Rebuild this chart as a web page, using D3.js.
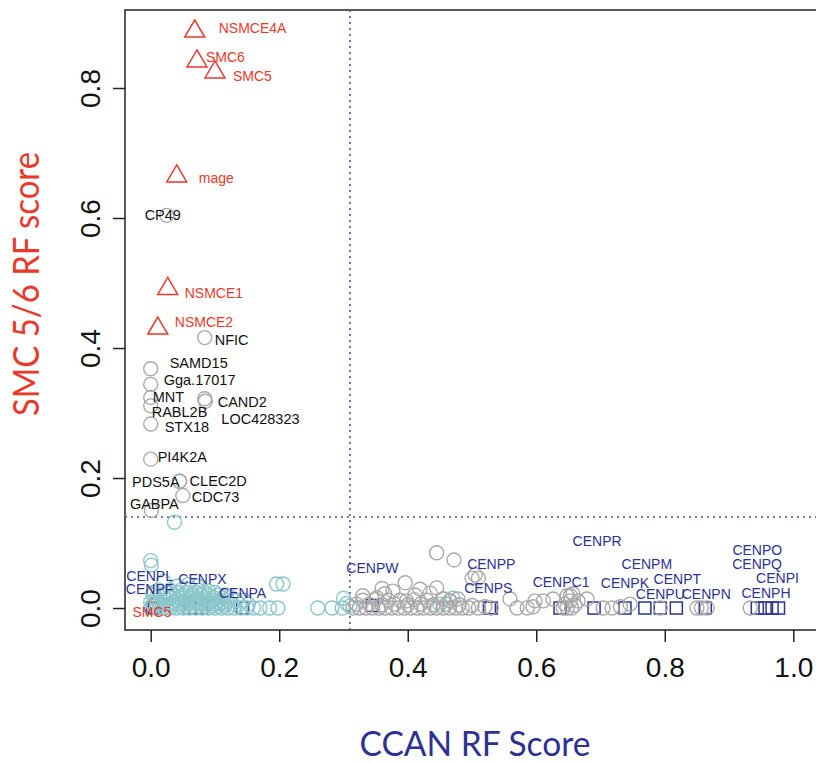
<!DOCTYPE html>
<html>
<head>
<meta charset="utf-8">
<script src="https://cdn.jsdelivr.net/npm/d3@7"></script>
<style>
  body { margin: 0; background: #fff; }
  svg { display: block; }
  text { font-family: "Liberation Sans", Arial, sans-serif; }
</style>
</head>
<body>
<div id="chart"></div>
<script>
/* global d3 */

// ---- data ----

// SMC5/6 complex members (red triangles)
const smcGenes = ["NSMCE4A", "SMC6", "SMC5", "mage", "NSMCE1", "NSMCE2", "SMC5"]
const smcCcan  = [0.0685, 0.072, 0.100, 0.0405, 0.0265, 0.011, 0.002]
const smcScore = [0.890, 0.844, 0.827, 0.667, 0.494, 0.433, 0.012]

// other named genes (grey circles, black labels)
const greyGenes = ["CP49", "NFIC", "SAMD15", "Gga.17017", "MNT", "RABL2B", "CAND2",
                   "LOC428323", "STX18", "PI4K2A", "PDS5A", "CLEC2D", "CDC73", "GABPA"]
const greyCcan  = [0.025, 0.084, 0.0, 0.0, 0.0, 0.0, 0.084, 0.085, 0.0, 0.0, 0.045, 0.045, 0.050, 0.001]
const greyScore = [0.604, 0.416, 0.368, 0.344, 0.324, 0.311, 0.322, 0.318, 0.283, 0.229, 0.195, 0.195, 0.173, 0.150]

// CCAN members (blue squares)
const cenpGenes = ["CENPL", "CENPF", "", "CENPX", "CENPA", "CENPW", "CENPP", "CENPS", "CENPC1", "CENPR",
                   "CENPK", "CENPM", "CENPU", "CENPT", "CENPN", "CENPO", "CENPH", "CENPQ", "CENPI"]
const cenpCcan  = [0.003, 0.006, 0.061, 0.079, 0.143, 0.345, 0.530, 0.527, 0.637, 0.690,
                   0.738, 0.769, 0.793, 0.818, 0.863, 0.944, 0.956, 0.967, 0.977]
const cenpScore = [0, 0, 0, 0, 0, 0.004, 0, 0, 0, 0, 0, 0, 0, 0, 0, 0, 0, 0, 0]

// unlabelled genes below the SMC cut-off, [ccan, smc]
const tealPoints = [
  [0.0, 0], [0.01, 0], [0.02, 0], [0.03, 0], [0.04, 0], [0.05, 0], [0.06, 0], [0.07, 0], [0.08, 0],
  [0.09, 0], [0.10, 0], [0.11, 0], [0.12, 0], [0.13, 0], [0.14, 0], [0.15, 0], [0.16, 0], [0.17, 0],
  [0.185, 0], [0.198, 0], [0.26, 0], [0.282, 0], [0.298, 0], [0.31, 0.003],
  [0.005, 0.003], [0.015, 0.003], [0.025, 0.003], [0.035, 0.003], [0.045, 0.003], [0.055, 0.003],
  [0.065, 0.003], [0.075, 0.003], [0.085, 0.003], [0.095, 0.003], [0.105, 0.003], [0.115, 0.003],
  [0.005, 0.006], [0.018, 0.006], [0.033, 0.006], [0.047, 0.006], [0.058, 0.006], [0.072, 0.006],
  [0.088, 0.006], [0.10, 0.006], [0.115, 0.006], [0.127, 0.006], [0.138, 0.006], [0.152, 0.006],
  [0.0, 0.009], [0.012, 0.009], [0.022, 0.009], [0.036, 0.009], [0.05, 0.009], [0.062, 0.009],
  [0.076, 0.009], [0.09, 0.009], [0.102, 0.009], [0.112, 0.009],
  [0.01, 0.012], [0.025, 0.012], [0.04, 0.012], [0.055, 0.012], [0.068, 0.012], [0.082, 0.012],
  [0.095, 0.012], [0.108, 0.012], [0.12, 0.012], [0.133, 0.012], [0.145, 0.012],
  [0.008, 0.016], [0.028, 0.016], [0.044, 0.016], [0.06, 0.016], [0.072, 0.016], [0.085, 0.016],
  [0.098, 0.016], [0.112, 0.016], [0.125, 0.016],
  [0.003, 0.02], [0.02, 0.02], [0.035, 0.02], [0.05, 0.02], [0.065, 0.02], [0.078, 0.02],
  [0.09, 0.02], [0.105, 0.02], [0.118, 0.02],
  [0.005, 0.024], [0.025, 0.024], [0.04, 0.024], [0.056, 0.024], [0.07, 0.024], [0.084, 0.024], [0.10, 0.024],
  [0.012, 0.028], [0.03, 0.028], [0.048, 0.028], [0.062, 0.029], [0.075, 0.027], [0.09, 0.026],
  [0.042, 0.034], [0.058, 0.036], [0.073, 0.034], [0.02, 0.041],
  [0.0, 0.073], [0.001, 0.066], [0.037, 0.132], [0.196, 0.037], [0.206, 0.037], [0.30, 0.015], [0.305, 0.007],
  [0.455, 0.014], [0.465, 0.011], [0.47, 0.015], [0.45, 0.006]
]
const greyPoints = [
  [0.315, 0], [0.325, 0], [0.335, 0], [0.345, 0], [0.355, 0], [0.365, 0], [0.375, 0], [0.385, 0],
  [0.395, 0], [0.405, 0], [0.415, 0], [0.425, 0], [0.435, 0], [0.445, 0], [0.455, 0], [0.465, 0],
  [0.475, 0], [0.485, 0], [0.495, 0],
  [0.32, 0.006], [0.34, 0.006], [0.36, 0.005], [0.38, 0.006], [0.40, 0.005], [0.42, 0.006],
  [0.44, 0.005], [0.46, 0.006], [0.48, 0.005], [0.50, 0.004],
  [0.33, 0.012], [0.35, 0.013], [0.37, 0.012], [0.388, 0.012], [0.398, 0.011], [0.41, 0.013],
  [0.43, 0.012], [0.455, 0.014], [0.478, 0.014],
  [0.33, 0.019], [0.352, 0.016], [0.364, 0.022], [0.411, 0.02], [0.435, 0.023], [0.466, 0.011],
  [0.36, 0.03], [0.377, 0.026], [0.396, 0.039], [0.419, 0.029], [0.445, 0.031], [0.445, 0.085],
  [0.472, 0.074], [0.505, 0.051], [0.50, 0.046], [0.51, 0.046],
  [0.51, 0], [0.52, 0.002], [0.53, 0], [0.559, 0.014], [0.57, 0], [0.586, 0], [0.595, 0.002],
  [0.598, 0.011], [0.611, 0.011], [0.626, 0.014], [0.642, 0], [0.648, 0], [0.655, 0], [0.645, 0.006],
  [0.653, 0.011], [0.66, 0.004], [0.665, 0.011], [0.648, 0.019], [0.653, 0.019], [0.657, 0.022],
  [0.679, 0.014], [0.704, 0], [0.718, 0], [0.731, 0.002], [0.746, 0.006], [0.793, 0],
  [0.85, 0], [0.857, 0], [0.866, 0], [0.933, 0]
]

// cut-offs (dotted lines) and ticks
const ccanCutoff = 0.31
const smcCutoff = 0.14
const xTicks = [0, 0.2, 0.4, 0.6, 0.8, 1.0]
const yTicks = [0, 0.2, 0.4, 0.6, 0.8]

// label placement, hand tuned like the original (pixels from the mark)
const smcNudge  = [[24, -2], [9, -2], [18, 6], [22, 4], [17, 6], [17, -5], [0, 12]]
const smcMarkSize = [1, 1, 1, 1, 1, 1, 0.3]
const greyNudge = [["middle", -4, 0], ["start", 10, 2], ["start", 19, -6], ["start", 13, -4],
                   ["start", 2, 0], ["start", 1, 6], ["start", 13, 3], ["start", 16, 18],
                   ["start", 14, 3], ["start", 7, -2], ["end", 0, 1], ["start", 10, 0],
                   ["start", 9, 1], ["middle", 3, -7]]
const cenpNudge = [[-3, -32], [-5, -19], [0, 0], [1, -29], [0, -15], [0, -37], [0, -44], [-1, -20],
                   [1, -26], [3, -67], [0, -25], [2, -44], [0, -14], [1, -29], [1, -14], [0, -58],
                   [1, -15], [-15, -44], [-1, -30]]

;(function () {

    const width = 816
    const height = 762
    const box = { left: 125, top: 10, right: 819, bottom: 630 }

    const red = "#e8392b"
    const navy = "#2e3192"

    let svg = d3.select("#chart")
        .append("svg")
        .attr("width", width)
        .attr("height", height)

    // R style: 4% padding around the data range
    let x = d3.scaleLinear().domain([-0.04, 1.04]).range([box.left, box.right])
    let y = d3.scaleLinear().domain([-0.0338, 0.92]).range([box.bottom, box.top])

    let plot = svg.append("g")

    // frame
    plot.append("rect")
        .attr("x", box.left)
        .attr("y", box.top)
        .attr("width", box.right - box.left)
        .attr("height", box.bottom - box.top)
        .attr("fill", "none")
        .attr("stroke", "#222")
        .attr("stroke-width", 1.5)

    // axes
    let xAxis = svg.append("g")
        .attr("transform", `translate(0, ${box.bottom})`)
        .call(d3.axisBottom(x).tickValues(xTicks).tickSize(12).tickFormat(d3.format(".1f")))
    xAxis.select(".domain").remove()
    xAxis.selectAll("line").attr("stroke", "#222").attr("stroke-width", 1.5)
    xAxis.selectAll("text")
        .attr("y", 47).attr("dy", 0)
        .attr("fill", "#111")
        .style("font-size", "28px")

    let yAxis = svg.append("g")
        .attr("transform", `translate(${box.left}, 0)`)
        .call(d3.axisLeft(y).tickValues(yTicks).tickSize(12).tickFormat(d3.format(".1f")))
    yAxis.select(".domain").remove()
    yAxis.selectAll("line").attr("stroke", "#222").attr("stroke-width", 1.5)
    yAxis.selectAll("text")
        .attr("transform", "rotate(-90)")
        .attr("x", 0).attr("y", -25).attr("dy", 0)
        .attr("fill", "#111")
        .style("text-anchor", "middle")
        .style("font-size", "28px")

    // cut-off lines
    plot.append("line")
        .attr("x1", x(ccanCutoff)).attr("x2", x(ccanCutoff))
        .attr("y1", box.top).attr("y2", box.bottom)
        .attr("stroke", "#4a4eb0").attr("stroke-width", 1.6)
        .attr("stroke-dasharray", "2,4")
    plot.append("line")
        .attr("x1", box.left).attr("x2", box.right)
        .attr("y1", y(smcCutoff)).attr("y2", y(smcCutoff))
        .attr("stroke", "#4a4eb0").attr("stroke-width", 1.6)
        .attr("stroke-dasharray", "2,4")

    // squares go under the circles, like in the original
    plot.selectAll(".cenp")
        .data(cenpCcan)
        .enter().append("rect")
        .attr("class", "cenp")
        .attr("x", d => x(d) - 6)
        .attr("y", (d, i) => y(cenpScore[i]) - 6)
        .attr("width", 12).attr("height", 12)
        .attr("fill", "none")
        .attr("stroke", navy).attr("stroke-width", 1.5)

    plot.selectAll(".teal")
        .data(tealPoints)
        .enter().append("circle")
        .attr("class", "teal")
        .attr("cx", d => x(d[0]))
        .attr("cy", d => y(d[1]))
        .attr("r", 7)
        .attr("fill", "none")
        .attr("stroke", "#8ac6ca").attr("stroke-width", 1.4)

    plot.selectAll(".grey")
        .data(greyPoints)
        .enter().append("circle")
        .attr("class", "grey")
        .attr("cx", d => x(d[0]))
        .attr("cy", d => y(d[1]))
        .attr("r", 7)
        .attr("fill", "none")
        .attr("stroke", "#a9a9a9").attr("stroke-width", 1.4)

    plot.selectAll(".named")
        .data(greyCcan)
        .enter().append("circle")
        .attr("class", "named")
        .attr("cx", d => x(d))
        .attr("cy", (d, i) => y(greyScore[i]))
        .attr("r", 7)
        .attr("fill", "none")
        .attr("stroke", "#a9a9a9").attr("stroke-width", 1.4)

    // triangles
    plot.selectAll(".smc")
        .data(smcCcan)
        .enter().append("path")
        .attr("class", "smc")
        .attr("d", "M0,-9.5 L10,7.5 L-10,7.5 Z")
        .attr("transform", (d, i) => `translate(${x(d)}, ${y(smcScore[i])}) scale(${smcMarkSize[i]})`)
        .attr("fill", "none")
        .attr("stroke", red).attr("stroke-width", 1.5)

    // labels
    plot.selectAll(".cenp-label")
        .data(cenpGenes)
        .enter().append("text")
        .attr("class", "cenp-label")
        .attr("x", (d, i) => x(cenpCcan[i]) + cenpNudge[i][0])
        .attr("y", (d, i) => y(cenpScore[i]) + cenpNudge[i][1])
        .attr("dominant-baseline", "central")
        .attr("text-anchor", "middle")
        .attr("fill", navy)
        .style("font-size", "14px")
        .text(d => d)

    plot.selectAll(".grey-label")
        .data(greyGenes)
        .enter().append("text")
        .attr("class", "grey-label")
        .attr("x", (d, i) => x(greyCcan[i]) + greyNudge[i][1])
        .attr("y", (d, i) => y(greyScore[i]) + greyNudge[i][2])
        .attr("dominant-baseline", "central")
        .attr("text-anchor", (d, i) => greyNudge[i][0])
        .attr("fill", "#111")
        .style("font-size", "14.5px")
        .text(d => d)

    plot.selectAll(".smc-label")
        .data(smcGenes)
        .enter().append("text")
        .attr("class", "smc-label")
        .attr("x", (d, i) => x(smcCcan[i]) + smcNudge[i][0])
        .attr("y", (d, i) => y(smcScore[i]) + smcNudge[i][1])
        .attr("dominant-baseline", "central")
        .attr("text-anchor", (d, i) => smcMarkSize[i] < 1 ? "middle" : "start")
        .attr("fill", red)
        .style("font-size", "14px")
        .text(d => d)

    // axis titles
    svg.append("text")
        .attr("x", 475).attr("y", 756)
        .attr("text-anchor", "middle")
        .attr("fill", navy)
        .attr("textLength", 231).attr("lengthAdjust", "spacingAndGlyphs")
        .style("font-family", "Lato, 'Open Sans', sans-serif")
        .style("font-size", "35px")
        .text("CCAN RF Score")

    svg.append("text")
        .attr("transform", "translate(39, 284) rotate(-90)")
        .attr("text-anchor", "middle")
        .attr("fill", red)
        .attr("textLength", 264).attr("lengthAdjust", "spacingAndGlyphs")
        .style("font-family", "Lato, 'Open Sans', sans-serif")
        .style("font-size", "36px")
        .text("SMC 5/6 RF score")

})()
</script>
</body>
</html>
